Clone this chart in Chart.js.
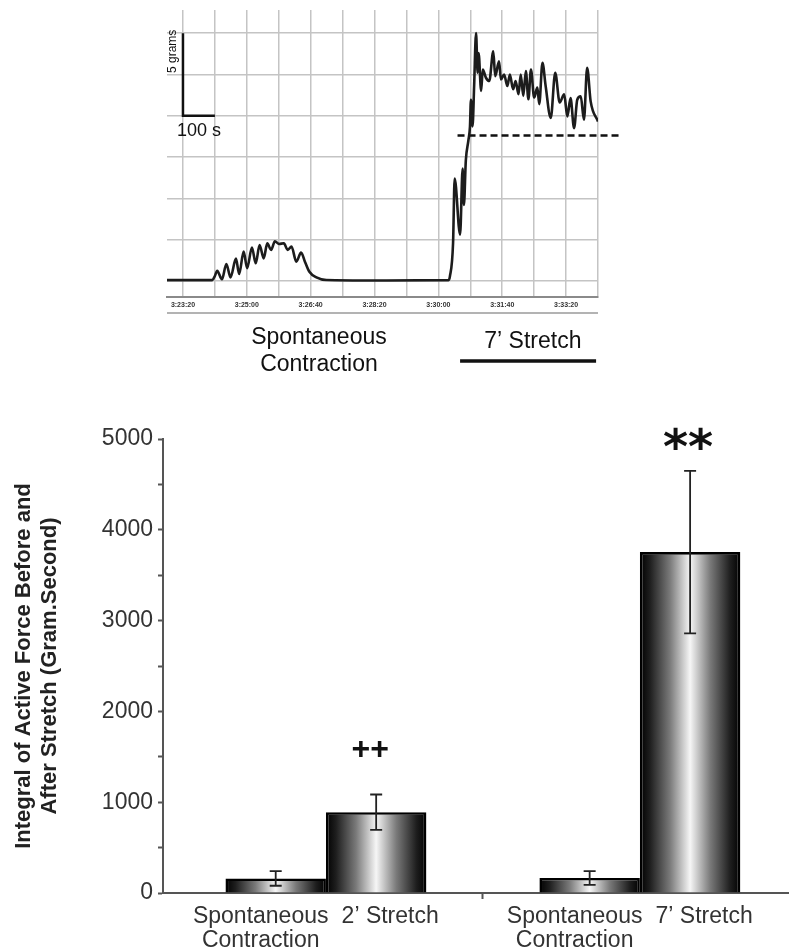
<!DOCTYPE html>
<html><head><meta charset="utf-8">
<script src="https://cdn.jsdelivr.net/npm/chart.js@4.4.0/dist/chart.umd.min.js"></script>
<style>
html,body{margin:0;padding:0;background:#fff;overflow:hidden;width:789px;height:952px}
#w1{position:absolute;left:0;top:0;width:789px;height:385px}
#w2{position:absolute;left:0;top:390px;width:789px;height:562px}
canvas{display:block}
</style></head><body>
<div id="w1"><canvas id="trace" width="789" height="385"></canvas></div>
<div id="w2"><canvas id="bars" width="789" height="562"></canvas></div>
<script>
// ---------- Trace (top panel) ----------
// time in seconds after 3:00:00, force in grams
const traceTime = [1375,1446,1450,1453.6,1461,1468,1474.5,1483,1488,1495,1500.5,1508,1514,1520,1526.5,1532,1538,1544,1550.5,1558,1564,1570,1577.5,1585,1591,1598,1609,1624.5,1700,1816,1818,1823,1825.5,1834,1838,1840,1843,1847,1849.5,1851,1853.5,1856,1859,1861.5,1863,1867,1869.5,1874.5,1879.7,1886,1889,1895,1898,1903,1908,1912,1917,1921,1925.5,1929,1933,1937,1941,1945,1950,1955,1958,1963,1968,1976,1983,1990,1997,2002,2007,2012.5,2017.5,2023,2028,2033,2038.5,2050];
const traceForce = [0.05,0.05,0.3,0.62,0.10,1.03,0.22,1.35,0.42,1.78,0.77,2.02,1.07,2.18,1.37,2.28,1.88,2.40,2.24,2.28,1.88,2.08,1.17,1.72,1.17,0.56,0.22,0.06,0.03,0.05,0.26,2.28,6.2,2.8,6.8,4.6,7.3,8.5,9.35,10.97,9.35,11.8,15.0,12.6,13.8,11.5,12.8,12.3,12.1,13.9,12.4,13.3,12.2,12.5,11.8,12.5,11.6,12.1,11.3,12.5,11.2,12.7,11.0,12.8,11.1,11.7,10.7,13.2,11.8,9.86,12.6,10.8,11.3,9.96,11.07,9.25,10.97,11.17,9.76,12.9,10.87,9.65];
const thresholdTime = [1830, 2087];
const thresholdForce = [8.8, 8.8];
const scaleBarTime = [1400, 1400, 1450];
const scaleBarForce = [15, 10, 10];
const timeRange = [1375, 2050];
const forceRange = [-0.97, 16.4];

// ---------- Bars (bottom panel) ----------
const groupX = [0, 1];
const spontMean = [160, 165];
const spontErr = [80, 75];
const stretchMean = [890, 3755];
const stretchErr = [195, 895];
const spontLabels = [["Spontaneous","Contraction"],["Spontaneous","Contraction"]];
const stretchLabels = [["2\u2019 Stretch"],["7\u2019 Stretch"]];
const stretchMarks = ["++","**"];
const yTitle = ["Integral of Active Force Before and","After Stretch (Gram.Second)"];

function fmtTime(v){
  const m = Math.floor(v/60), s = Math.round(v%60);
  return '3:' + m + ':' + String(s).padStart(2,'0');
}

const traceDecor = {
  id:'traceDecor',
  afterDraw(chart){
    const {ctx, chartArea:a, scales:{x:xs, y:ys}} = chart;
    ctx.save();
    ctx.strokeStyle = '#9a9a9a'; ctx.lineWidth = 1.6;
    ctx.beginPath(); ctx.moveTo(a.left, a.bottom+16); ctx.lineTo(a.right, a.bottom+16); ctx.stroke();
    ctx.fillStyle = '#111';
    ctx.font = '18px "Liberation Sans", Arial, sans-serif';
    ctx.textAlign = 'center'; ctx.textBaseline = 'middle';
    ctx.fillText('100 s', xs.getPixelForValue(1425), ys.getPixelForValue(10) + 15);
    ctx.save();
    ctx.translate(xs.getPixelForValue(1400) - 10, ys.getPixelForValue(13.9));
    ctx.rotate(-Math.PI/2);
    ctx.font = '12px "Liberation Sans", Arial, sans-serif';
    ctx.fillText('5 grams', 0, 0);
    ctx.restore();
    ctx.font = '23px "Liberation Sans", Arial, sans-serif';
    ctx.fillText('Spontaneous', xs.getPixelForValue(1613), a.bottom + 41);
    ctx.fillText('Contraction', xs.getPixelForValue(1613), a.bottom + 68);
    ctx.fillText('7\u2019 Stretch', xs.getPixelForValue(1948), a.bottom + 45);
    ctx.strokeStyle = '#111'; ctx.lineWidth = 3.5;
    ctx.beginPath();
    ctx.moveTo(xs.getPixelForValue(1834), a.bottom + 64);
    ctx.lineTo(xs.getPixelForValue(2047), a.bottom + 64);
    ctx.stroke();
    ctx.restore();
  }
};

const toXY = (xsArr, ysArr) => xsArr.map((t,i)=>({x:t, y:ysArr[i]}));

new Chart(document.getElementById('trace'), {
  type:'line',
  data:{datasets:[
    {label:'Force', data: toXY(traceTime, traceForce), borderColor:'#1c1c1c', borderWidth:2.6, pointRadius:0, cubicInterpolationMode:'monotone'},
    {label:'Threshold', data: toXY(thresholdTime, thresholdForce), borderColor:'#111', borderWidth:2.6, borderDash:[7,4], pointRadius:0, clip:false},
    {label:'Scale bar', data: toXY(scaleBarTime, scaleBarForce), borderColor:'#111', borderWidth:2.5, pointRadius:0, tension:0}
  ]},
  options:{
    responsive:false, animation:false, devicePixelRatio:1,
    layout:{padding:{top:10, right:191, left:0, bottom:0}},
    plugins:{legend:{display:false}, tooltip:{enabled:false}},
    scales:{
      x:{type:'linear', min:timeRange[0], max:timeRange[1],
        afterBuildTicks(s){ const t=[]; for (let v=1400; v<=s.max+1e-6; v+=50) t.push({value:v}); s.ticks = t; },
        afterFit(s){ s.height = 88; },
        ticks:{autoSkip:false, maxRotation:0, padding:4, color:'#333',
          font:{family:'"Liberation Sans", Arial', size:7, weight:'bold'},
          callback:(v)=> ((v-1400) % 100 === 0) ? fmtTime(v) : ''},
        grid:{color:'#c4c4c4', lineWidth:1.5, drawTicks:false},
        border:{display:true, color:'#8a8a8a', width:2}
      },
      y:{type:'linear', min:forceRange[0], max:forceRange[1],
        afterBuildTicks(s){ const t=[]; for (let v=0; v<=15+1e-6; v+=2.5) t.push({value:v}); s.ticks = t; },
        afterFit(s){ s.width = 167; },
        ticks:{display:false},
        grid:{color:'#c4c4c4', lineWidth:1.5, drawTicks:false},
        border:{display:false}
      }
    }
  },
  plugins:[traceDecor]
});

// ---------- Bar chart ----------
const CAT_PCT = 0.64;
function barGradient(c){
  const chart = c.chart, xs = chart.scales && chart.scales.x;
  if (!chart.chartArea || !xs || !c.raw) return '#888';
  const unit = Math.abs(xs.getPixelForValue(1) - xs.getPixelForValue(0));
  const groupW = unit * CAT_PCT;
  const nd = chart.data.datasets.length;
  const w = groupW / nd;
  const left = xs.getPixelForValue(c.raw.x) - groupW/2 + c.datasetIndex * w;
  const g = chart.ctx.createLinearGradient(left, 0, left + w, 0);
  g.addColorStop(0, '#000');
  g.addColorStop(0.1, '#1e1e1e');
  g.addColorStop(0.3, '#7a7a7a');
  g.addColorStop(0.5, '#f6f6f6');
  g.addColorStop(0.7, '#7a7a7a');
  g.addColorStop(0.9, '#1e1e1e');
  g.addColorStop(1, '#000');
  return g;
}

const barDecor = {
  id:'barDecor',
  afterDatasetsDraw(chart){
    const {ctx, chartArea:a, scales:{y:ys}} = chart;
    ctx.save();
    chart.data.datasets.forEach((ds, di) => {
      const meta = chart.getDatasetMeta(di);
      meta.data.forEach((el, i) => {
        const m = ds.data[i].y, e = ds.errors[i];
        const yt = ys.getPixelForValue(m + e), yb = ys.getPixelForValue(m - e);
        ctx.strokeStyle = '#222'; ctx.lineWidth = 1.8;
        ctx.beginPath();
        ctx.moveTo(el.x, yt); ctx.lineTo(el.x, yb);
        ctx.moveTo(el.x - 6, yt); ctx.lineTo(el.x + 6, yt);
        ctx.moveTo(el.x - 6, yb); ctx.lineTo(el.x + 6, yb);
        ctx.stroke();
        if (ds.marks && ds.marks[i]) {
          const mk = ds.marks[i];
          const isStar = mk.indexOf('*') >= 0;
          ctx.font = isStar ? 'bold 48px "DejaVu Sans", sans-serif' : 'bold 32px "Liberation Sans", Arial, sans-serif';
          ctx.fillStyle = '#111';
          ctx.textAlign = 'center'; ctx.textBaseline = 'alphabetic';
          const mt = ctx.measureText(mk);
          const gap = isStar ? 21 : 37;
          ctx.fillText(mk, el.x - (isStar ? 2 : 6), yt - gap - mt.actualBoundingBoxDescent);
        }
        ctx.font = '23px "Liberation Sans", Arial, sans-serif';
        ctx.fillStyle = '#333';
        ctx.textAlign = 'center'; ctx.textBaseline = 'middle';
        const lx = el.x + (di === 0 ? -15 : 14);
        ds.tickLabels[i].forEach((line, li) => ctx.fillText(line, lx, a.bottom + 24 + li*24));
      });
    });
    ctx.restore();
  }
};

new Chart(document.getElementById('bars'), {
  type:'bar',
  data:{datasets:[
    {label:'Spontaneous Contraction', data: groupX.map((x,i)=>({x, y:spontMean[i]})), errors: spontErr, tickLabels: spontLabels,
     backgroundColor: barGradient, borderColor:'#000', borderWidth:2.6},
    {label:'Stretch', data: groupX.map((x,i)=>({x, y:stretchMean[i]})), errors: stretchErr, tickLabels: stretchLabels, marks: stretchMarks,
     backgroundColor: barGradient, borderColor:'#000', borderWidth:2.6}
  ]},
  options:{
    responsive:false, animation:false, devicePixelRatio:1,
    layout:{padding:{top:49, right:0, left:0, bottom:0}},
    datasets:{bar:{categoryPercentage:CAT_PCT, barPercentage:1.0}},
    plugins:{legend:{display:false}, tooltip:{enabled:false}},
    scales:{
      x:{type:'linear', min:-0.519, max:1.475, offset:false,
        afterBuildTicks(s){ s.ticks = [{value:0.5}]; },
        afterFit(s){ s.height = 59; },
        ticks:{display:false},
        grid:{offset:false, drawOnChartArea:false, tickLength:6, tickColor:'#555', tickWidth:2},
        border:{color:'#555', width:2}
      },
      y:{type:'linear', min:0, max:5000,
        afterFit(s){ s.width = 163; },
        ticks:{stepSize:500, autoSkip:false, padding:5, color:'#333',
          font:{family:'"Liberation Sans", Arial, sans-serif', size:23},
          callback:(v)=> (v % 1000 === 0) ? String(v) : ''},
        grid:{drawOnChartArea:false, tickLength:5, tickColor:'#555', tickWidth:2},
        border:{color:'#555', width:2},
        title:{display:true, text:yTitle, color:'#222', padding:{top:11, bottom:0},
          font:{family:'"Liberation Sans", Arial, sans-serif', size:22, weight:'bold', lineHeight:26/22}}
      }
    }
  },
  plugins:[barDecor]
});
</script>
</body></html>
